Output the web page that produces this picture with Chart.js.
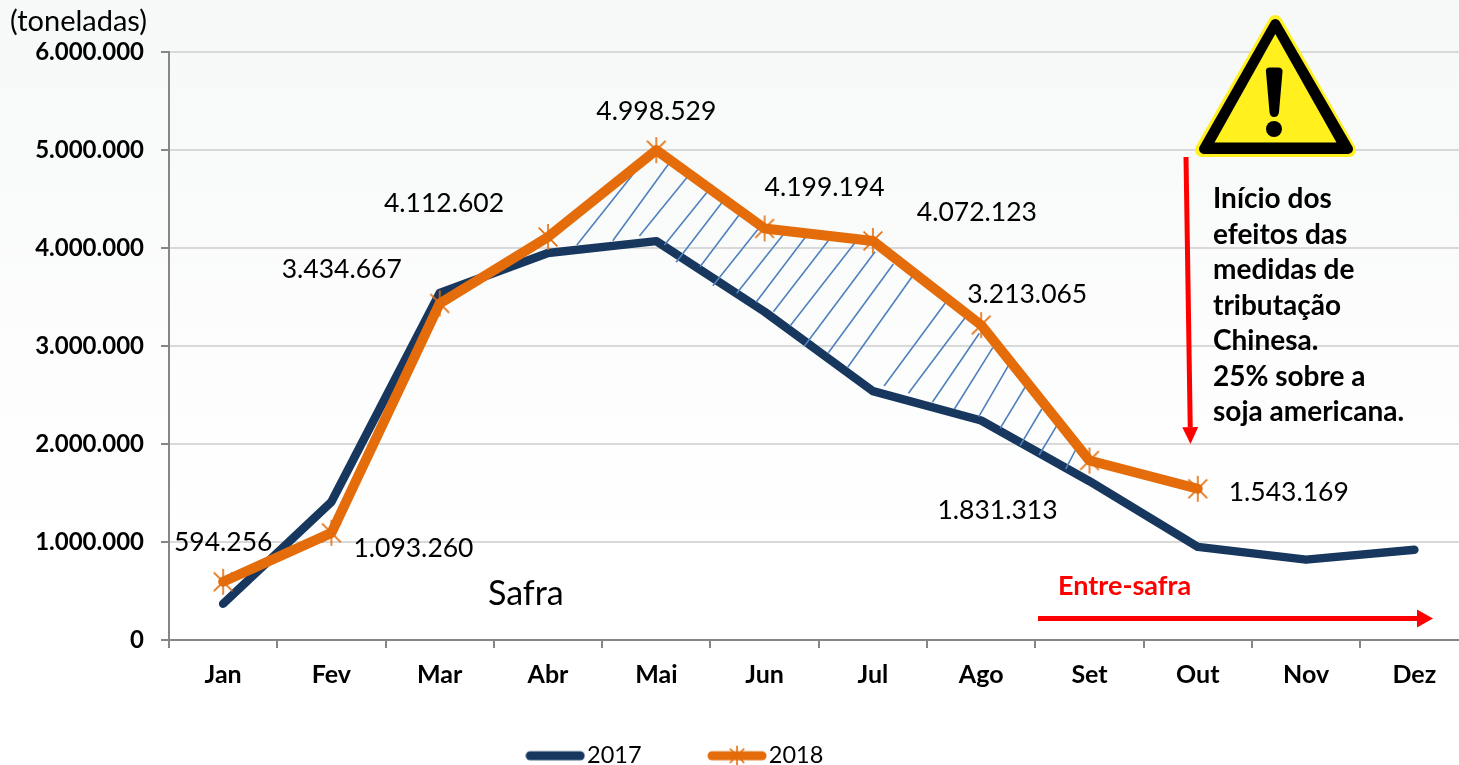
<!DOCTYPE html>
<html lang="pt"><head><meta charset="utf-8">
<style>html,body{margin:0;padding:0;background:#fff;overflow:hidden}#w{width:1459px;height:765px;position:relative;overflow:hidden}canvas{display:block}</style>
<script src="https://cdn.jsdelivr.net/npm/chart.js@4/dist/chart.umd.min.js"></script>
</head><body><div id="w"><canvas id="c" width="1500" height="765"></canvas></div>
<script>
const months = ['Jan','Fev','Mar','Abr','Mai','Jun','Jul','Ago','Set','Out','Nov','Dez'];
const values2017 = [370000,1410000,3540000,3950000,4070000,3350000,2540000,2240000,1620000,950000,820000,920000];
const values2018 = [594256,1093260,3434667,4112602,4998529,4199194,4072123,3213065,1831313,1543169,null,null];
const yTickLabels = ['0','1.000.000','2.000.000','3.000.000','4.000.000','5.000.000','6.000.000'];
// hatching strokes between the two years: [month position, tons in millions] start/end pairs
const hatchX = [3.266,3.829, 3.598,4.118, 3.844,4.296, 4.075,4.522, 4.183,4.617, 4.404,4.792, 4.522,4.970, 4.743,5.171,
  4.921,5.392, 5.081,5.593, 5.235,5.838, 5.368,6.020, 5.589,6.189, 5.768,6.368, 6.103,6.667, 6.328,6.851,
  6.549,6.983, 6.753,7.107, 6.978,7.251, 7.175,7.405, 7.359,7.560, 7.535,7.698, 7.781,7.876];
const hatchY = [4.031,4.813, 4.074,4.864, 4.122,4.738, 4.031,4.643, 3.854,4.480, 3.809,4.378, 3.615,4.235, 3.538,4.136,
  3.446,4.133, 3.350,4.082, 3.204,4.058, 3.000,3.962, 2.932,3.837, 2.783,3.717, 2.592,3.436, 2.517,3.289,
  2.426,3.130, 2.357,2.983, 2.279,2.799, 2.160,2.579, 1.983,2.357, 1.888,2.187, 1.745,1.949];
const noteLines = ['Início dos','efeitos das','medidas de','tributação','Chinesa.','25% sobre a','soja americana.'];
const labelOffsets = [[0,-39],[82,16],[-98,-34],[-104,-34],[0,-39],[60,-41],[104,-28],[46,-31],[-92,50],[91,4]];

const NAVY='#17375e', ORANGE='#e46c0a', FONT='Lato, "Open Sans", sans-serif';

function starImage(r){
  const c=document.createElement('canvas'); c.width=c.height=2*r+2;
  const g=c.getContext('2d'); g.strokeStyle=ORANGE; g.lineWidth=1.6; g.translate(r+1,r+1);
  const d=r*0.72; g.beginPath();
  g.moveTo(-d,-d); g.lineTo(d,d); g.moveTo(d,-d); g.lineTo(-d,d); g.moveTo(0,-r); g.lineTo(0,r); g.stroke();
  return c;
}
function legendImage(col,star){
  const c=document.createElement('canvas'); c.width=60; c.height=26;
  const g=c.getContext('2d'); g.fillStyle=col; g.beginPath(); g.roundRect(0.5,8.5,59,9,4.5); g.fill();
  if(star){ g.drawImage(starImage(10),19,2); }
  return c;
}
const hatchData=[];
for(let i=0;i<hatchX.length;i+=2){
  hatchData.push({x:hatchX[i],y:hatchY[i]*1e6},{x:hatchX[i+1],y:hatchY[i+1]*1e6},{x:hatchX[i+1],y:null});
}
function arrow(g,x0,y0,x1,y1,w,hl,hw){
  const a=Math.atan2(y1-y0,x1-x0), bx=x1-hl*Math.cos(a), by=y1-hl*Math.sin(a);
  g.strokeStyle=g.fillStyle='#ff0000'; g.lineWidth=w; g.beginPath(); g.moveTo(x0,y0); g.lineTo(bx,by); g.stroke();
  g.beginPath(); g.moveTo(x1,y1);
  g.lineTo(bx-hw*Math.sin(a),by+hw*Math.cos(a)); g.lineTo(bx+hw*Math.sin(a),by-hw*Math.cos(a)); g.closePath(); g.fill();
}
function warning(g){
  const tri=(x0,y0,x1,y1,x2,y2,col,lw)=>{g.fillStyle=g.strokeStyle=col;g.lineJoin='round';g.lineWidth=lw;g.beginPath();g.moveTo(x0,y0);g.lineTo(x1,y1);g.lineTo(x2,y2);g.closePath();g.fill();if(lw)g.stroke();};
  tri(1275.3,22,1202,150,1349,150,'#fff01e',14);
  tri(1275.3,24,1204,149,1348,149,'#000000',10);
  tri(1275.3,34,1214.5,142.5,1336.5,142.5,'#fff01e',0);
  g.fillStyle='#000'; g.beginPath();
  g.moveTo(1266,72); g.quadraticCurveTo(1265,67.5,1270,67.5); g.lineTo(1278,67.5); g.quadraticCurveTo(1283,67.5,1282.5,72);
  g.lineTo(1279,112); g.quadraticCurveTo(1278.5,117,1274,117); g.quadraticCurveTo(1270,117,1269.5,112); g.closePath(); g.fill();
  g.beginPath(); g.arc(1274,129,8,0,7); g.fill();
}
const overlay={id:'overlay',
  afterLayout(ch){ const l=ch.legend; const p=l.options.labels.padding; l.left=535.25-p; l.right=l.left+900; l.top=744-p; },
  beforeDraw(ch){ const g=ch.ctx; const gr=g.createLinearGradient(0,0,0,560);
    gr.addColorStop(0,'#f6f9f7'); gr.addColorStop(1,'#ffffff'); g.save(); g.fillStyle=gr; g.fillRect(0,0,1500,765); g.restore(); },
  afterDraw(ch){ const g=ch.ctx, xs=ch.scales.x, ys=ch.scales.y; g.save();
    g.textBaseline='middle'; g.fillStyle='#000'; g.textAlign='center'; g.font='26.5px '+FONT;
    values2018.forEach((v,i)=>{ if(v==null)return; const o=labelOffsets[i];
      g.fillText(v.toLocaleString('de-DE'),xs.getPixelForValue(i)+o[0],ys.getPixelForValue(v)+o[1]); });
    g.textAlign='left';
    g.font='29px '+FONT; g.fillText('(toneladas)',10,22);
    g.font='34px '+FONT; g.fillText('Safra',488,594);
    g.font='bold 27px '+FONT; g.fillStyle='#ff0000'; g.fillText('Entre-safra',1058,586);
    g.fillStyle='#000'; g.font='bold 28px '+FONT;
    noteLines.forEach((t,i)=>g.fillText(t,1213,199+i*35.5));
    arrow(g,1186,157,1190.5,444,5,17,8);
    arrow(g,1038,618.5,1433,618.5,5,16,9);
    warning(g);
    g.restore(); }
};
new Chart(document.getElementById('c'),{
  type:'line',
  data:{labels:months,datasets:[
    {label:'2017',data:values2017,borderColor:NAVY,backgroundColor:NAVY,borderWidth:8.5,pointRadius:0,tension:0,order:2,borderCapStyle:'round',borderJoinStyle:'round'},
    {label:'2018',data:values2018,borderColor:ORANGE,backgroundColor:ORANGE,borderWidth:10,pointStyle:starImage(13),pointRadius:13,tension:0,order:0,borderCapStyle:'round',borderJoinStyle:'round'},
    {label:'hachura',data:hatchData,xAxisID:'xh',borderColor:'#4f81bd',borderWidth:1.6,pointRadius:0,tension:0,order:1,spanGaps:false}
  ]},
  options:{
    responsive:false,animation:false,
    layout:{padding:{left:0,top:52,right:31.5,bottom:0}},
    plugins:{tooltip:{enabled:false},
      legend:{position:'bottom',align:'start',maxHeight:40,
        labels:{usePointStyle:true,pointStyleWidth:40,boxHeight:10,padding:75.5,color:'#000',font:{family:FONT,size:23.5},
          filter:it=>it.text!=='hachura',
          generateLabels(ch){return [
            {text:'2017',datasetIndex:0,pointStyle:legendImage(NAVY,false),fillStyle:NAVY,strokeStyle:NAVY,lineWidth:0,fontColor:'#000'},
            {text:'2018',datasetIndex:1,pointStyle:legendImage(ORANGE,true),fillStyle:ORANGE,strokeStyle:ORANGE,lineWidth:0,fontColor:'#000'}];}
        }}},
    scales:{
      x:{offset:true,afterFit(s){s.height=85;},
        grid:{offset:true,drawOnChartArea:false,tickLength:8,tickColor:'#868686',lineWidth:2},
        border:{color:'#868686',width:2},
        ticks:{color:'#000',padding:12,maxRotation:0,autoSkip:false,font:{family:FONT,size:25,weight:'bold'}}},
      xh:{type:'linear',display:false,min:-0.5,max:11.5},
      y:{min:0,max:6000000,afterFit(s){s.width=169;},
        grid:{color:'#d9d9d9',lineWidth:2,tickLength:8,tickColor:'#868686'},
        border:{color:'#868686',width:2},
        ticks:{stepSize:1000000,color:'#000',padding:17,font:{family:FONT,size:24,weight:'bold'},
          callback:(v,i)=>yTickLabels[i]}}
    }
  },
  plugins:[overlay]
});
</script></body></html>
